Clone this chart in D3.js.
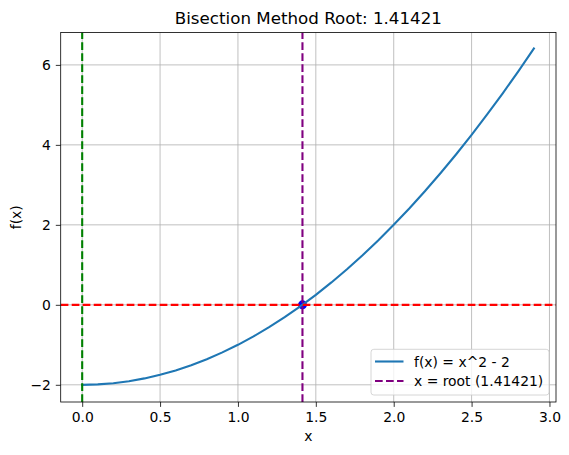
<!DOCTYPE html>
<html>
<head>
<meta charset="utf-8">
<script src="https://cdn.jsdelivr.net/npm/d3@7"></script>
<style>
  body { margin: 0; background: #fff; }
  text { font-family: "DejaVu Sans", sans-serif; fill: #000; }
</style>
</head>
<body>
<svg id="chart" width="569" height="455"></svg>
<script>
// Data
const xValues = [0.0,0.1,0.2,0.3,0.4,0.5,0.6,0.7,0.8,0.9,1.0,1.1,1.2,1.3,1.4,1.5,1.6,1.7,1.8,1.9,2.0,2.1,2.2,2.3,2.4,2.5,2.6,2.7,2.8,2.9];
const yValues = [-2.0,-1.99,-1.96,-1.91,-1.84,-1.75,-1.64,-1.51,-1.36,-1.19,-1.0,-0.79,-0.56,-0.31,-0.04,0.25,0.56,0.89,1.24,1.61,2.0,2.41,2.84,3.29,3.76,4.25,4.76,5.29,5.84,6.41];
const rootValue = 1.41421;
const startX = 0.0;
const xTicks = [0.0, 0.5, 1.0, 1.5, 2.0, 2.5, 3.0];
const yTicks = [-2, 0, 2, 4, 6];
const legendLabels = ["f(x) = x^2 - 2", "x = root (1.41421)"];
const titleText = "Bisection Method Root: 1.41421";

const svg = d3.select("#chart");
const m = { left: 60.7, right: 556, top: 32.5, bottom: 402 };

const x = d3.scaleLinear().domain([-0.138, 3.042]).range([m.left, m.right]);
const y = d3.scaleLinear().domain([-2.43, 6.81]).range([m.bottom, m.top]);

const plot = svg.append("g");
const clipId = "clip";
svg.append("clipPath").attr("id", clipId).append("rect")
  .attr("x", m.left).attr("y", m.top)
  .attr("width", m.right - m.left).attr("height", m.bottom - m.top);

// grid
const grid = plot.append("g").attr("stroke", "#b0b0b0").attr("stroke-width", 0.8);
xTicks.forEach(t => grid.append("line").attr("x1", x(t)).attr("x2", x(t)).attr("y1", m.top).attr("y2", m.bottom));
yTicks.forEach(t => grid.append("line").attr("y1", y(t)).attr("y2", y(t)).attr("x1", m.left).attr("x2", m.right));

const marks = plot.append("g").attr("clip-path", `url(#${clipId})`);

// root marker (drawn beneath lines as in matplotlib)
marks.append("circle").attr("cx", x(rootValue)).attr("cy", y(0)).attr("r", 4.5).attr("fill", "blue");

// function curve
const pts = xValues.map((v, i) => [v, yValues[i]]);
marks.append("path").datum(pts)
  .attr("fill", "none").attr("stroke", "#1f77b4").attr("stroke-width", 2.1)
  .attr("stroke-linecap", "square")
  .attr("d", d3.line().x(d => x(d[0])).y(d => y(d[1])));

const dash = "7.7,3.3";
// horizontal y=0
marks.append("line").attr("x1", m.left).attr("x2", m.right).attr("y1", y(0)).attr("y2", y(0))
  .attr("stroke", "red").attr("stroke-width", 2.1).attr("stroke-dasharray", dash);
// start vertical
marks.append("line").attr("x1", x(startX)).attr("x2", x(startX)).attr("y1", m.bottom).attr("y2", m.top)
  .attr("stroke", "green").attr("stroke-width", 2.1).attr("stroke-dasharray", dash);
// root vertical
marks.append("line").attr("x1", x(rootValue)).attr("x2", x(rootValue)).attr("y1", m.bottom).attr("y2", m.top)
  .attr("stroke", "purple").attr("stroke-width", 2.1).attr("stroke-dasharray", dash);

// axes
const xAxis = d3.axisBottom(x).tickValues(xTicks).tickFormat(d3.format(".1f")).tickSize(4.9).tickPadding(4.9);
const yAxis = d3.axisLeft(y).tickValues(yTicks).tickFormat(d => d < 0 ? "\u2212" + Math.abs(d) : d).tickSize(4.9).tickPadding(4.9);

const gx = svg.append("g").attr("transform", `translate(0,${m.bottom})`).call(xAxis);
const gy = svg.append("g").attr("transform", `translate(${m.left},0)`).call(yAxis);
[gx, gy].forEach(g => {
  g.select(".domain").remove();
  g.selectAll(".tick line").attr("stroke", "#000").attr("stroke-width", 0.8);
  g.selectAll(".tick text").attr("font-size", 13.9).attr("font-family", "DejaVu Sans").attr("fill", "#000");
});

// frame
svg.append("rect").attr("x", m.left).attr("y", m.top)
  .attr("width", m.right - m.left).attr("height", m.bottom - m.top)
  .attr("fill", "none").attr("stroke", "#000").attr("stroke-width", 0.8);

// labels
svg.append("text").attr("x", (m.left + m.right) / 2).attr("y", 24)
  .attr("text-anchor", "middle").attr("font-size", 16.7).text(titleText);
svg.append("text").attr("x", (m.left + m.right) / 2).attr("y", 441)
  .attr("text-anchor", "middle").attr("font-size", 13.9).text("x");
svg.append("text").attr("transform", `translate(21,${(m.top + m.bottom) / 2}) rotate(-90)`)
  .attr("text-anchor", "middle").attr("font-size", 13.9).text("f(x)");

// legend
const lg = svg.append("g");
lg.append("rect").attr("x", 371).attr("y", 349.3).attr("width", 178).attr("height", 45.7)
  .attr("rx", 2.8).attr("fill", "#fff").attr("fill-opacity", 0.8)
  .attr("stroke", "#cccccc").attr("stroke-width", 0.8);
const legendStyles = [
  { color: "#1f77b4", dash: null },
  { color: "purple", dash: dash }
];
legendLabels.forEach((lab, i) => {
  const cy = 361.5 + i * 19.5;
  const ln = lg.append("line").attr("x1", 375).attr("x2", 403.5).attr("y1", cy).attr("y2", cy)
    .attr("stroke", legendStyles[i].color).attr("stroke-width", 2.1);
  if (legendStyles[i].dash) ln.attr("stroke-dasharray", legendStyles[i].dash);
  lg.append("text").attr("x", 414).attr("y", cy + 5).attr("font-size", 13.9).text(lab);
});
</script>
</body>
</html>
